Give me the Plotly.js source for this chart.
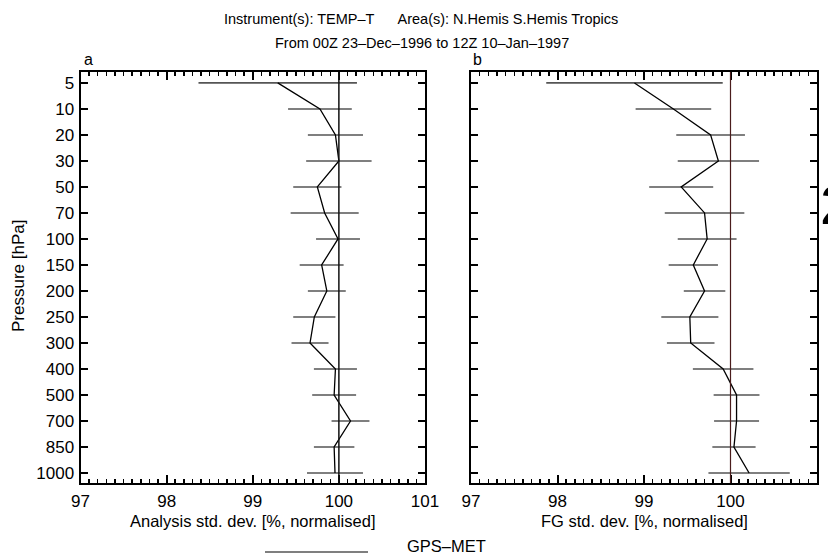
<!DOCTYPE html>
<html>
<head>
<meta charset="utf-8">
<script src="https://cdn.plot.ly/plotly-3.0.1.min.js"></script>
<style>html,body{margin:0;padding:0;background:#fff;}#chart{width:828px;height:558px;}</style>
</head>
<body>
<div id="chart"></div>
<script>
// ---- data ----
const pressureLevels = ["5","10","20","30","50","70","100","150","200","250","300","400","500","700","850","1000"];
const analysisStdDev = [99.29, 99.78, 99.96, 100.0, 99.75, 99.835, 99.99, 99.80, 99.86, 99.715, 99.665, 99.96, 99.945, 100.135, 99.945, 99.955];
const analysisSpread = [0.92, 0.37, 0.32, 0.38, 0.28, 0.395, 0.255, 0.255, 0.22, 0.245, 0.215, 0.25, 0.255, 0.22, 0.235, 0.325];
const fgStdDev = [98.89, 99.34, 99.77, 99.86, 99.43, 99.70, 99.73, 99.57, 99.70, 99.53, 99.54, 99.915, 100.07, 100.07, 100.04, 100.215];
const fgSpread = [1.02, 0.437, 0.397, 0.47, 0.37, 0.46, 0.34, 0.285, 0.24, 0.33, 0.275, 0.35, 0.265, 0.26, 0.25, 0.47];
const xTickVals = [97, 98, 99, 100, 101];
const referenceValue = 100;
const seriesName = "GPS\u2013MET";

// ---- styling / layout ----
const W = 828, H = 558;
const FONT = "Liberation Sans, Arial, Helvetica, sans-serif";
const px = v => v / W, py = v => 1 - v / H;

function profile(xv, err, xa, ya) {
  return {
    type: "scatter", mode: "lines", x: xv, y: pressureLevels,
    xaxis: xa, yaxis: ya, name: seriesName, showlegend: false,
    line: {color: "#000", width: 1.3},
    error_x: {type: "data", array: err, symmetric: true, visible: true,
              color: "#555", thickness: 1.6, width: 0}
  };
}

function xAxis(domain, anchor) {
  return {
    domain: domain, anchor: anchor, range: [97, 101],
    tickvals: xTickVals, ticktext: xTickVals.map(String),
    ticks: "inside", ticklen: 8, tickwidth: 2, tickcolor: "#000",
    minor: {dtick: 0.1, tick0: 97, ticks: "inside", ticklen: 4, tickwidth: 1.5, tickcolor: "#000", showgrid: false},
    showline: true, linewidth: 2, linecolor: "#000", mirror: "ticks",
    showgrid: false, zeroline: false, fixedrange: true,
    tickfont: {family: FONT, size: 17, color: "#000"},
    ticklabelstandoff: 2
  };
}
function yAxis(anchor, showLabels) {
  return {
    domain: [py(483), py(72)], anchor: anchor,
    type: "category", categoryarray: pressureLevels, categoryorder: "array",
    range: [15.385, -0.42],
    ticks: "inside", ticklen: 7, tickwidth: 2, tickcolor: "#000",
    showline: true, linewidth: 2, linecolor: "#000", mirror: "ticks",
    showgrid: false, zeroline: false, fixedrange: true,
    showticklabels: showLabels,
    tickfont: {family: FONT, size: 17, color: "#000"},
    ticklabelstandoff: 1
  };
}

const data = [
  profile(analysisStdDev, analysisSpread, "x", "y"),
  profile(fgStdDev, fgSpread, "x2", "y2")
];

const ann = (text, x, y, opts) => Object.assign({
  text: text, xref: "paper", yref: "paper", x: px(x), y: py(y),
  showarrow: false, xanchor: "center", yanchor: "middle",
  font: {family: FONT, size: 14.5, color: "#000"}
}, opts || {});
const f = s => ({family: FONT, size: s, color: "#000"});

const layout = {
  width: W, height: H,
  margin: {l: 0, r: 0, t: 0, b: 0},
  paper_bgcolor: "#fff", plot_bgcolor: "#fff",
  showlegend: false,
  xaxis: xAxis([px(80.5), px(425)], "y"),
  yaxis: yAxis("x", true),
  xaxis2: xAxis([px(471), px(817)], "y2"),
  yaxis2: yAxis("x2", false),
  shapes: [
    {type: "line", xref: "x", yref: "y domain", x0: referenceValue, x1: referenceValue, y0: 0, y1: 1,
     line: {color: "#111", width: 1.5}},
    {type: "line", xref: "x2", yref: "y2 domain", x0: referenceValue, x1: referenceValue, y0: 0, y1: 1,
     line: {color: "#4a1c1c", width: 1.2}},
    {type: "line", xref: "paper", yref: "paper", x0: px(265), x1: px(368), y0: py(552), y1: py(552),
     line: {color: "#000", width: 1.2}}
  ],
  annotations: [
    ann("Instrument(s): TEMP\u2013T      Area(s): N.Hemis S.Hemis Tropics", 421, 19),
    ann("From 00Z 23\u2013Dec\u20131996 to 12Z 10\u2013Jan\u20131997", 422, 43),
    ann("a", 82, 59, {xanchor: "left", font: f(16)}),
    ann("b", 471, 59, {xanchor: "left", font: f(16)}),
    ann("Pressure [hPa]", 18, 276, {textangle: -90, font: f(17)}),
    ann("Analysis std. dev. [%, normalised]", 252, 521, {font: f(16.5)}),
    ann("FG std. dev. [%, normalised]", 644, 521, {font: f(16.5)}),
    ann(seriesName, 447, 546, {font: f(16.5)}),
    ann("2", 818, 205, {xanchor: "left", font: f(56)})
  ]
};

Plotly.newPlot("chart", data, layout, {staticPlot: true, displayModeBar: false});
</script>
</body>
</html>
